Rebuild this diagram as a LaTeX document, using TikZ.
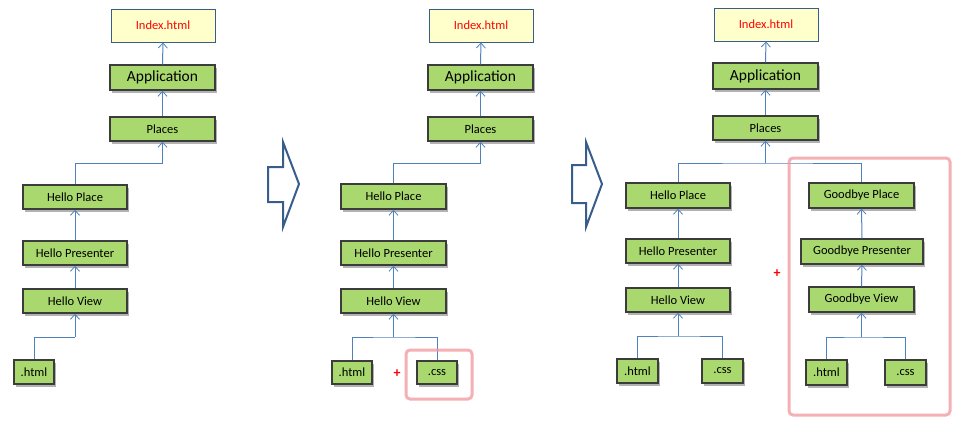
\documentclass[tikz,border=0pt]{standalone}
\usepackage{fontspec}
\setmainfont{Carlito}
\usetikzlibrary{arrows.meta,shadows,calc}
\definecolor{gfill}{RGB}{168,216,110}
\definecolor{gdraw}{RGB}{60,60,60}
\definecolor{yfill}{RGB}{255,255,204}
\definecolor{ydraw}{RGB}{56,93,138}
\definecolor{conn}{RGB}{79,129,189}
\definecolor{pinkline}{RGB}{240,150,155}
\definecolor{bigarrow}{RGB}{56,93,138}
\tikzset{
  gbox/.style={draw=gdraw, line width=1.4pt, fill=gfill, inner sep=0pt,
    font=\fontsize{12.5}{14}\selectfont,
    drop shadow={shadow xshift=2pt, shadow yshift=-3pt, fill=black, opacity=0.3}},
  appbox/.style={gbox, font=\fontsize{15.5}{17}\selectfont},
  ybox/.style={draw=ydraw, line width=0.9pt, fill=yfill, inner sep=0pt,
    text=red, font=\fontsize{12.5}{14}\selectfont},
  line/.style={draw=conn, line width=1pt},
  arr/.style={line, -{Straight Barb[length=5pt,width=9pt,line width=0.8pt]}},
  pinkbox/.style={draw=pinkline, line width=3pt, rounded corners=4pt, opacity=0.75},
  plus/.style={text=red, font=\fontsize{14}{15}\selectfont\bfseries, inner sep=0pt},
  hollow/.style={draw=bigarrow, line width=2pt, fill=white, line join=miter}
}
\newcommand\bx[7]{\node[#7, minimum width={(#4-#2)*1pt}, minimum height={(#5-#3)*1pt}]
  (#1) at ({(#2+#4)/2},{(#3+#5)/2}) {#6};}
\begin{document}
\begin{tikzpicture}[x=1pt,y=-1pt]
\useasboundingbox (0,0) rectangle (961,426);
% ---------- panel 1
\bx{idx1}{111}{9}{215}{42}{Index.html}{ybox}
\bx{app1}{110}{65}{215}{90}{Application}{appbox}
\bx{pl1}{110}{117}{215}{141}{Places}{gbox}
\bx{hp1}{23}{185}{127}{209}{Hello Place}{gbox}
\bx{hpr1}{23}{241}{127}{265}{Hello Presenter}{gbox}
\bx{hv1}{23}{289}{127}{313}{Hello View}{gbox}
\bx{ht1}{14}{360}{54}{384}{.html}{gbox}
\draw[arr] (app1.north) -- (idx1.south);
\draw[arr] (pl1.north) -- (app1.south);
\coordinate (j1) at (pl1.south |- {(0,163)});
\draw[line] (hp1.north) |- (j1);
\draw[arr] (j1) -- (pl1.south);
\draw[arr] (hpr1.north) -- (hp1.south);
\draw[arr] (hv1.north) -- (hpr1.south);
\coordinate (k1) at (hv1.south |- {(0,337)});
\draw[line] (ht1.north) |- (k1);
\draw[arr] (k1) -- (hv1.south);
% big arrow 1
\draw[hollow] (268,167) -- (283,167) -- (283,142) -- (299,184) -- (283,227) -- (283,202) -- (268,202) -- cycle;
% ---------- panel 2
\bx{idx2}{429}{9}{533}{42}{Index.html}{ybox}
\bx{app2}{428}{65}{533}{90}{Application}{appbox}
\bx{pl2}{428}{117}{533}{141}{Places}{gbox}
\bx{hp2}{341}{184}{446}{209}{Hello Place}{gbox}
\bx{hpr2}{341}{241}{446}{265}{Hello Presenter}{gbox}
\bx{hv2}{341}{289}{446}{313}{Hello View}{gbox}
\bx{ht2}{332}{361}{372}{384}{.html}{gbox}
\bx{css2}{417}{361}{457}{384}{.css}{gbox}
\draw[arr] (app2.north) -- (idx2.south);
\draw[arr] (pl2.north) -- (app2.south);
\coordinate (j2) at (pl2.south |- {(0,163)});
\draw[line] (hp2.north) |- (j2);
\draw[arr] (j2) -- (pl2.south);
\draw[arr] (hpr2.north) -- (hp2.south);
\draw[arr] (hv2.north) -- (hpr2.south);
\coordinate (k2) at (hv2.south |- {(0,337)});
\draw[line] (ht2.north) |- (k2) -| (css2.north);
\draw[arr] (k2) -- (hv2.south);
\node[plus] (plus2) at (397,374) {+};
\draw[pinkbox] (406,350) rectangle (472,399);
% big arrow 2
\draw[hollow] (572,165) -- (586,165) -- (586,142) -- (602,184) -- (586,227) -- (586,203) -- (572,203) -- cycle;
% ---------- panel 3
\bx{idx3}{714}{8}{818}{41}{Index.html}{ybox}
\bx{app3}{713}{63}{818}{89}{Application}{appbox}
\bx{pl3}{713}{116}{818}{140}{Places}{gbox}
\bx{hp3}{626}{183}{730}{208}{Hello Place}{gbox}
\bx{hpr3}{626}{239}{730}{263}{Hello Presenter}{gbox}
\bx{hv3}{626}{288}{730}{312}{Hello View}{gbox}
\bx{ht3}{617}{359}{658}{383}{.html}{gbox}
\bx{css3}{702}{359}{743}{383}{.css}{gbox}
\bx{gp}{809}{183}{914}{208}{Goodbye Place}{gbox}
\bx{gpr}{801}{239}{923}{264}{Goodbye Presenter}{gbox}
\bx{gv}{809}{287}{914}{312}{Goodbye View}{gbox}
\bx{ght}{806}{360}{847}{385}{.html}{gbox}
\bx{gcss}{885}{360}{926}{385}{.css}{gbox}
\draw[arr] (app3.north) -- (idx3.south);
\draw[arr] (pl3.north) -- (app3.south);
\coordinate (j3) at (pl3.south |- {(0,163)});
\draw[line] (hp3.north) |- (j3) -| (gp.north);
\draw[arr] (j3) -- (pl3.south);
\draw[arr] (hpr3.north) -- (hp3.south);
\draw[arr] (hv3.north) -- (hpr3.south);
\coordinate (k3) at (hv3.south |- {(0,336)});
\draw[line] (ht3.north) |- (k3) -| (css3.north);
\draw[arr] (k3) -- (hv3.south);
\draw[arr] (gpr.north) -- (gp.south);
\draw[arr] (gv.north) -- (gpr.south);
\coordinate (k4) at (gv.south |- {(0,337)});
\draw[line] (ght.north) |- (k4) -| (gcss.north);
\draw[arr] (k4) -- (gv.south);
\node[plus] (plus3) at (777,274) {+};
\draw[pinkbox] (789,158) rectangle (950,415);
\end{tikzpicture}
\end{document}
